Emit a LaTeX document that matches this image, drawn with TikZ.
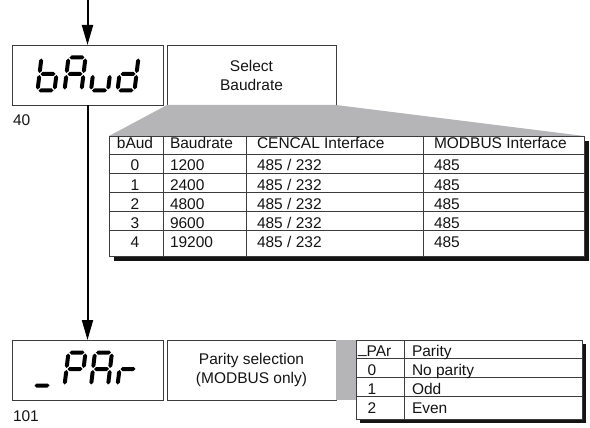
\documentclass[tikz,border=0pt]{standalone}
\usepackage{fontspec}
\setmainfont{Liberation Sans}
\usetikzlibrary{arrows.meta}
\definecolor{greyfill}{RGB}{181,181,184}
\definecolor{inkcol}{RGB}{20,20,20}
\definecolor{linecol}{RGB}{60,60,60}
% seven-segment segments (local coords, y downwards)
\newcommand\SSsega{\fill[sevseg] (-7.5,-16.5) -- (-5.5,-18.5) -- (5.5,-18.5) -- (7.5,-16.5) -- (5.5,-14.5) -- (-5.5,-14.5) -- cycle;}
\newcommand\SSsegg{\fill[sevseg] (-7.5,0) -- (-5.5,-2) -- (5.5,-2) -- (7.5,0) -- (5.5,2) -- (-5.5,2) -- cycle;}
\newcommand\SSsegd{\fill[sevseg] (-7.5,16.5) -- (-5.5,14.5) -- (5.5,14.5) -- (7.5,16.5) -- (5.5,18.5) -- (-5.5,18.5) -- cycle;}
\newcommand\SSsegf{\fill[sevseg] (-8.5,-15.5) -- (-6.5,-13.5) -- (-6.5,-3) -- (-8.5,-1) -- (-10.5,-3) -- (-10.5,-13.5) -- cycle;}
\newcommand\SSsege{\fill[sevseg] (-8.5,1) -- (-6.5,3) -- (-6.5,13.5) -- (-8.5,15.5) -- (-10.5,13.5) -- (-10.5,3) -- cycle;}
\newcommand\SSsegb{\fill[sevseg] (8.5,-15.5) -- (10.5,-13.5) -- (10.5,-3) -- (8.5,-1) -- (6.5,-3) -- (6.5,-13.5) -- cycle;}
\newcommand\SSsegc{\fill[sevseg] (8.5,1) -- (10.5,3) -- (10.5,13.5) -- (8.5,15.5) -- (6.5,13.5) -- (6.5,3) -- cycle;}
\newcommand\SSdigit[3]{%
  \begin{scope}[shift={(#1,#2)}, xslant=0.12]
    \foreach \s in {#3} {\csname SSseg\s\endcsname}
  \end{scope}}
\begin{document}
\begin{tikzpicture}[x=1pt,y=-1pt,
  every node/.style={font=\fontsize{15.5}{19}\selectfont, text=inkcol, inner sep=0pt, outer sep=0pt},
  sevseg/.style={fill=black},
  frame/.style={draw=linecol, line width=0.9pt},
  boxnode/.style={frame, minimum height=60pt, align=center},
  gridline/.style={draw=linecol, line width=0.9pt},
  flow/.style={draw=black, line width=2pt, -{Triangle[length=20pt,width=11pt]}},
  shade/.style={fill=greyfill},
  shadowfill/.style={fill=inkcol},
  cell/.style={anchor=base west},
  num/.style={anchor=base},
]
\useasboundingbox (0,0) rectangle (590,428);

% ---------- boxes ----------
\node[boxnode, minimum width=151pt] (baud) at (87.5,75) {};
\node[boxnode, minimum width=169pt] (sel) at (251.5,75) {Select\\Baudrate};
\node[boxnode, minimum width=151pt] (par) at (87.5,370) {};
\node[boxnode, minimum width=169pt] (psel) at (251.5,370) {Parity selection\\(MODBUS only)};

% seven segment texts
\SSdigit{48}{74}{f,e,g,c,d}
\SSdigit{75}{74}{a,b,c,e,f,g}
\SSdigit{101.5}{74}{c,d,e}
\SSdigit{128}{74}{b,c,d,e,g}

\SSdigit{44}{369}{d}
\SSdigit{75}{369}{a,b,e,f,g}
\SSdigit{101.5}{369}{a,b,c,e,f,g}
\SSdigit{128}{369}{e,g}

% labels
\node[anchor=base west] (lbl40) at (13,126) {40};
\node[anchor=base west] (lbl101) at (13,421) {101};

% ---------- arrows ----------
\coordinate (start) at (87.5,0);
\draw[flow] (start) -- (baud.north);
\draw[flow] (baud.south) -- (par.north);

% ---------- baud table ----------
\path (346.5,196) node[minimum width=475pt, minimum height=120pt] (t1) {};
\fill[shadowfill] ([shift={(5,5)}]t1.north west) rectangle ([shift={(5,5)}]t1.south east);
\fill[shade] (sel.south west) -- (sel.south east) -- (t1.north east) -- (t1.north west) -- cycle;
\draw[frame, fill=white] (t1.north west) rectangle (t1.south east);
\foreach \y in {154,173,192,211,230} \draw[gridline] (109,\y) -- (584,\y);
\foreach \x in {163,246,423} \draw[gridline] (\x,136) -- (\x,256);

\node[num] (h1) at (135,149) {bAud};
\node[cell] (h2) at (170,149) {Baudrate};
\node[cell] (h3) at (257,149) {CENCAL Interface};
\node[cell] (h4) at (434,149) {MODBUS Interface};
\foreach \i/\rate/\yb in {0/1200/171,1/2400/190,2/4800/209,3/9600/228,4/19200/247} {
  \node[num] (ra\i) at (135,\yb) {\i};
  \node[cell] (rb\i) at (170,\yb) {\rate};
  \node[cell] (rc\i) at (257,\yb) {485 / 232};
  \node[cell] (rd\i) at (434,\yb) {485};
}

% ---------- parity table ----------
\path (469,379.5) node[minimum width=226pt, minimum height=79pt] (t2) {};
\fill[shadowfill] ([shift={(4,4)}]t2.north west) rectangle ([shift={(4,4)}]t2.south east);
\fill[shade] (psel.north east) rectangle (t2.west |- psel.south);
\draw[frame, fill=white] (t2.north west) rectangle (t2.south east);
\foreach \y in {358,377,396} \draw[gridline] (356,\y) -- (582,\y);
\draw[gridline] (404,340) -- (404,419);

\node[cell] (p1) at (358,356) {\raisebox{2.5pt}{\_}PAr};
\node[cell] (p2) at (412,356) {Parity};
\foreach \i/\txt/\yb in {0/No parity/375,1/Odd/394,2/Even/413} {
  \node[num] (pa\i) at (372,\yb) {\i};
  \node[cell] (pb\i) at (412,\yb) {\txt};
}
\end{tikzpicture}
\end{document}
